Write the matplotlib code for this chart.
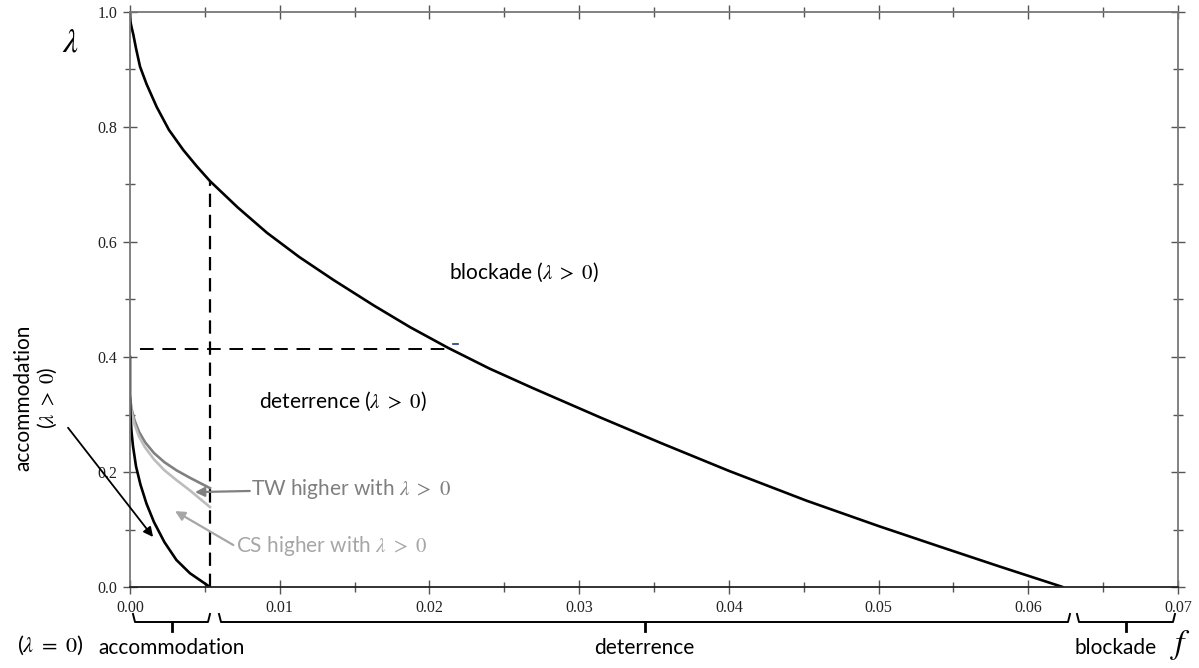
import numpy as np
import matplotlib
matplotlib.use('Agg')
import matplotlib.pyplot as plt
from matplotlib import rc

rc('mathtext', fontset='stix')

# ---- data ----
# upper boundary (blockade / deterrence)
f_main = [0.0, 0.00001, 0.00004, 0.0001, 0.00022, 0.0004, 0.00067, 0.0011,
          0.00178, 0.0026, 0.00356, 0.00445, 0.00534, 0.0072, 0.00915, 0.0113,
          0.01359, 0.01626, 0.0187, 0.02124, 0.024, 0.0269, 0.0314, 0.0355,
          0.0400, 0.0452, 0.0500, 0.054, 0.0581, 0.0623]
lam_main = [1.0, 0.99, 0.982, 0.974, 0.961, 0.937, 0.905, 0.875,
            0.835, 0.795, 0.760, 0.732, 0.706, 0.660, 0.616, 0.574,
            0.534, 0.490, 0.452, 0.416, 0.380, 0.346, 0.295, 0.250,
            0.202, 0.150, 0.106, 0.071, 0.0355, 0.0]

# accommodation boundary
f_acc = [0.0, 0.0, 0.00003, 0.0001, 0.0002, 0.0004, 0.0007, 0.0011, 0.0016,
         0.0023, 0.0031, 0.004, 0.00534]
lam_acc = [0.40, 0.33, 0.30, 0.27, 0.245, 0.21, 0.178, 0.145, 0.113,
           0.078, 0.047, 0.024, 0.0]

# total welfare curve
f_tw = [0.0, 0.0001, 0.0003, 0.0006, 0.001, 0.0016, 0.0023, 0.0031, 0.004,
        0.00534]
lam_tw = [0.33, 0.31, 0.29, 0.27, 0.252, 0.233, 0.217, 0.203, 0.19, 0.172]

# consumer surplus curve
f_cs = [0.0, 0.0001, 0.0003, 0.0006, 0.001, 0.0016, 0.0023, 0.0031, 0.004,
        0.00534]
lam_cs = [0.33, 0.305, 0.283, 0.262, 0.243, 0.222, 0.203, 0.186, 0.168, 0.139]

f_thr = 0.00534     # accommodation / deterrence threshold
lam_thr = 0.706
f_cross = 0.0212    # where lambda = 0.414 meets the boundary
lam_cross = 0.414

x_ticks = [0.00, 0.01, 0.02, 0.03, 0.04, 0.05, 0.06, 0.07]
y_ticks = [0.0, 0.2, 0.4, 0.6, 0.8, 1.0]

W, H = 1199, 668
fig = plt.figure(figsize=(W / 100, H / 100), dpi=100)
ax = fig.add_axes([130 / W, 81 / H, 1048 / W, 575 / H])

ax.plot(f_main, lam_main, color='black', lw=1.9, solid_capstyle='round')
ax.plot(f_tw, lam_tw, color='#808080', lw=1.9)
ax.plot(f_cs, lam_cs, color='#bdbdbd', lw=1.9)
ax.plot(f_acc, lam_acc, color='black', lw=1.9)

# dashed guide lines
ax.plot([f_thr, f_thr], [0, lam_thr], color='black', lw=1.6, dashes=(6, 3.5))
ax.plot([0.00067, f_cross], [lam_cross, lam_cross], color='black', lw=1.4,
        dashes=(7, 4.5))
ax.plot([f_cross + 0.0004, f_cross + 0.0007], [lam_cross + 0.008] * 2,
        color='#1f3a7a', lw=1.2)

ax.set_xlim(0, 0.07)
ax.set_ylim(0, 1.0)
ax.set_xticks(x_ticks)
ax.set_xticklabels([f'{v:.2f}' for v in x_ticks])
ax.set_yticks(y_ticks)
ax.set_yticklabels([f'{v:.1f}' for v in y_ticks])
ax.set_xticks(np.arange(0.005, 0.07, 0.01), minor=True)
ax.set_yticks(np.arange(0.1, 1.0, 0.2), minor=True)
ax.tick_params(which='both', direction='inout', top=True, right=True,
               color='#555555', width=1.0, labelsize=11.5, pad=4)
ax.tick_params(which='major', length=10)
ax.tick_params(which='minor', length=7)
for lab in ax.get_xticklabels() + ax.get_yticklabels():
    lab.set_family('Liberation Serif')
    lab.set_color('#222222')
for side in ['left', 'top', 'right']:
    ax.spines[side].set_color('#777777')
    ax.spines[side].set_linewidth(1.3)
ax.spines['bottom'].set_color('#222222')
ax.spines['bottom'].set_linewidth(1.3)

gt = r'$\lambda\ >\ 0$'
txt = dict(family='Lato', fontsize=15)
ax.text(0.0213, 0.548, 'blockade (' + gt + ')', va='center', ha='left', **txt)
ax.text(0.0086, 0.322, 'deterrence (' + gt + ')', va='center', ha='left', **txt)
ax.text(0.0081, 0.170, 'TW higher with ' + gt, va='center', ha='left',
        color='#7f7f7f', **txt)
ax.text(0.0071, 0.071, 'CS higher with ' + gt, va='center', ha='left',
        color='#a6a6a6', **txt)

# arrows
ax.annotate('', xy=(0.00154, 0.087), xytext=(-0.00414, 0.277),
            arrowprops=dict(arrowstyle='-|>', color='black', lw=1.3,
                            mutation_scale=14, shrinkA=0, shrinkB=0),
            annotation_clip=False)
ax.annotate('', xy=(0.00434, 0.165), xytext=(0.0080, 0.167),
            arrowprops=dict(arrowstyle='-|>', color='#808080', lw=1.6,
                            mutation_scale=14, shrinkA=0, shrinkB=0))
ax.annotate('', xy=(0.00301, 0.132), xytext=(0.0069, 0.073),
            arrowprops=dict(arrowstyle='-|>', color='#a6a6a6', lw=1.6,
                            mutation_scale=14, shrinkA=0, shrinkB=0))


def px(x, y):
    return x / W, 1 - y / H


# braces under the axis, drawn in figure pixels
def brace(x0, x1, y=622):
    xm = (x0 + x1) / 2
    xs = [x0, x0 + 2, x1 - 2, x1]
    ys = [614, y, y, 614]
    fx = [v / W for v in xs]
    fy = [1 - v / H for v in ys]
    fig.add_artist(plt.Line2D(fx, fy, color='black', lw=1.4))
    fig.add_artist(plt.Line2D([xm / W, xm / W], [1 - y / H, 1 - 631 / H],
                              color='black', lw=2.0))


brace(133, 210)
brace(219, 1070)
brace(1077, 1175)

fig.text(*px(172, 648), 'accommodation', ha='center', va='center', **txt)
fig.text(*px(644, 648), 'deterrence', ha='center', va='center', **txt)
fig.text(*px(1116, 648), 'blockade', ha='center', va='center', **txt)
fig.text(*px(50, 645), r'($\lambda\ =\ 0$)', ha='center', va='center',
         family='Lato', fontsize=16)
fig.text(*px(36, 398), 'accommodation\n(' + gt + ')', ha='center',
         va='center', rotation=90, linespacing=1.1, **txt)
fig.text(*px(70, 42), r'$\lambda$', ha='center', va='center', fontsize=24)
fig.text(*px(1181, 645), r'$f$', ha='center', va='center', fontsize=24)

fig.savefig('out.png', dpi=100)
